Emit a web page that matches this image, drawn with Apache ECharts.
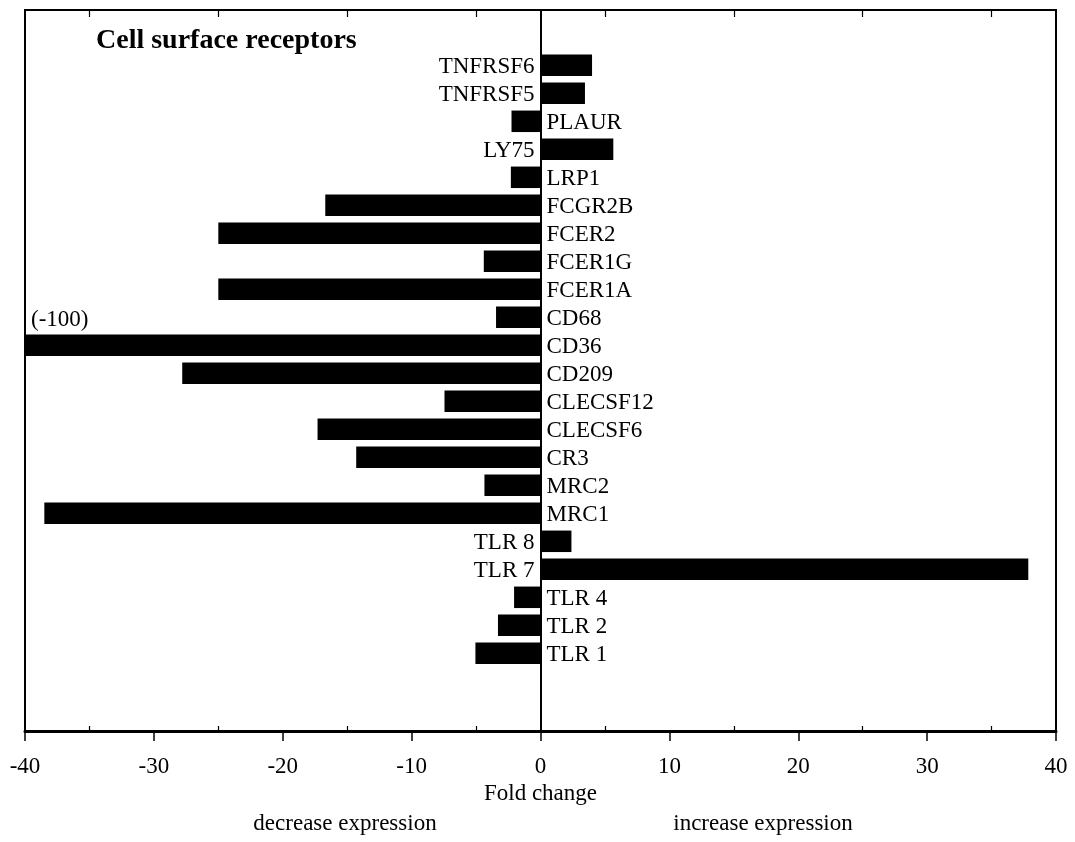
<!DOCTYPE html>
<html>
<head>
<meta charset="utf-8">
<script src="https://cdn.jsdelivr.net/npm/echarts@6/dist/echarts.min.js"></script>
<style>
html,body{margin:0;padding:0;background:#fff;}
#chart{width:1075px;height:842px;}
</style>
</head>
<body>
<div id="chart"></div>
<script>
// ---- data ----
var categories = ['TNFRSF6','TNFRSF5','PLAUR','LY75','LRP1','FCGR2B','FCER2','FCER1G','FCER1A','CD68','CD36','CD209','CLECSF12','CLECSF6','CR3','MRC2','MRC1','TLR 8','TLR 7','TLR 4','TLR 2','TLR 1'];
var foldChange = [4.0, 3.45, -2.25, 5.65, -2.3, -16.7, -25.0, -4.4, -25.0, -3.45, -100, -27.8, -7.45, -17.3, -14.3, -4.35, -38.5, 2.4, 37.85, -2.05, -3.3, -5.05];
var tickPositions = [-40,-35,-30,-25,-20,-15,-10,-5,0,5,10,15,20,25,30,35,40];
var titleText = 'Cell surface receptors';
var clippedNote = '(-100)';
var xAxisTitle = 'Fold change';
var leftNote = 'decrease expression';
var rightNote = 'increase expression';

var FONT = '"Liberation Serif","Times New Roman",serif';
var chart = echarts.init(document.getElementById('chart'), null, {renderer: 'canvas'});

var barData = foldChange.map(function (v, i) {
  return {
    value: v,
    name: categories[i],
    label: {position: v >= 0 ? 'left' : 'right'}
  };
});

var minorTickAxis = function (pos, len) {
  return {
    type: 'category', gridIndex: 0, position: pos,
    data: tickPositions.map(String), boundaryGap: false,
    axisLine: {show: false},
    axisLabel: {show: false},
    splitLine: {show: false},
    axisTick: {show: true, inside: true, length: len, alignWithLabel: true,
      interval: function (i) { return i % 2 === 1; },
      lineStyle: {color: '#000', width: 1.2}}
  };
};

var option = {
  backgroundColor: '#fff',
  animation: false,
  grid: [
    {left: 25, right: 19, top: 10, bottom: 111, show: true, borderColor: '#000', borderWidth: 2, backgroundColor: 'transparent'},
    {left: 25, right: 19, top: 51.3, bottom: 174.7}
  ],
  xAxis: [
    {
      type: 'value', gridIndex: 0, min: -40, max: 40, interval: 10, position: 'bottom',
      axisLine: {show: true, onZero: false, lineStyle: {color: '#000', width: 3}},
      axisTick: {show: true, inside: false, length: 10, lineStyle: {color: '#000', width: 1.5}},
      axisLabel: {color: '#000', fontFamily: FONT, fontSize: 23, margin: 24},
      splitLine: {show: false},
      name: xAxisTitle, nameLocation: 'middle', nameGap: 46,
      nameTextStyle: {color: '#000', fontFamily: FONT, fontSize: 23}
    },
    minorTickAxis('bottom', 5),
    minorTickAxis('top', 7),
    {type: 'value', gridIndex: 1, min: -40, max: 40, show: false}
  ],
  yAxis: [
    {
      type: 'value', gridIndex: 0, min: 0, max: 1,
      axisLine: {show: true, onZero: true, onZeroAxisIndex: 0, lineStyle: {color: '#000', width: 2}},
      axisTick: {show: false}, axisLabel: {show: false}, splitLine: {show: false}
    },
    {
      type: 'category', gridIndex: 1, data: categories, inverse: true, show: false
    }
  ],
  series: [
    {
      type: 'bar', xAxisIndex: 3, yAxisIndex: 1,
      data: barData, barWidth: 21.5, clip: true,
      itemStyle: {color: '#000'},
      label: {show: true, formatter: '{b}', color: '#000', fontFamily: FONT, fontSize: 23, distance: 6, offset: [0, 2]}
    }
  ],
  graphic: [
    {type: 'text', left: 96, top: 27, style: {text: titleText, font: 'bold 28px ' + FONT, fill: '#000'}},
    {type: 'text', left: 31, top: 308, style: {text: clippedNote, font: '23px ' + FONT, fill: '#000'}},
    {type: 'text', x: 345, y: 824, style: {text: leftNote, font: '23px ' + FONT, fill: '#000', textAlign: 'center', textVerticalAlign: 'middle'}},
    {type: 'text', x: 763, y: 824, style: {text: rightNote, font: '23px ' + FONT, fill: '#000', textAlign: 'center', textVerticalAlign: 'middle'}}
  ]
};
chart.setOption(option);
</script>
</body>
</html>
